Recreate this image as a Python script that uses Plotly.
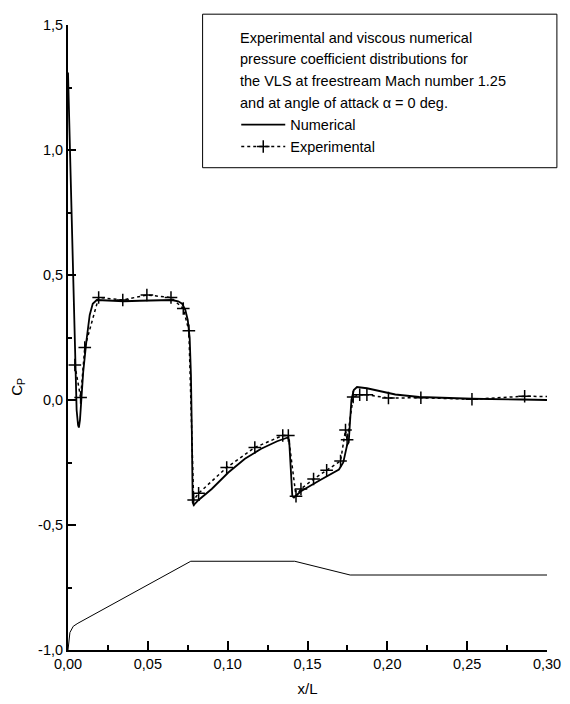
import plotly.graph_objects as go

# ---- data ----
num_x = [0.0, 0.0054, 0.0063, 0.0068, 0.0075, 0.0085, 0.0095, 0.0116, 0.0136, 0.0155, 0.018,
         0.025, 0.035, 0.045, 0.055, 0.065, 0.069, 0.0715, 0.0735, 0.0750, 0.0762, 0.0770,
         0.0775, 0.0778, 0.0781, 0.0788, 0.0818, 0.090, 0.1004, 0.1108, 0.121, 0.131, 0.1376,
         0.1385, 0.1395, 0.1405, 0.1415, 0.1459, 0.158, 0.1697, 0.1724, 0.1748, 0.1758,
         0.1765, 0.1775, 0.179, 0.181, 0.1872, 0.195, 0.205, 0.220, 0.253, 0.284, 0.300]
num_cp = [1.31, -0.04, -0.10, -0.11, -0.08, 0.02, 0.11, 0.24, 0.34, 0.385, 0.40,
          0.398, 0.395, 0.397, 0.40, 0.40, 0.395, 0.385, 0.36, 0.32, 0.25, 0.10,
          -0.10, -0.30, -0.41, -0.42, -0.40, -0.356, -0.29, -0.235, -0.195, -0.165, -0.15,
          -0.16, -0.26, -0.385, -0.39, -0.365, -0.32, -0.278, -0.25, -0.18, -0.17,
          -0.074, 0.0, 0.04, 0.052, 0.047, 0.035, 0.022, 0.012, 0.005, 0.002, 0.0]

exp_x = [0.0043, 0.0079, 0.0105, 0.0192, 0.0343, 0.0494, 0.0645, 0.0722, 0.0757, 0.0787,
         0.0818, 0.0994, 0.117, 0.1345, 0.1380, 0.1428, 0.1459, 0.1538, 0.162, 0.1707,
         0.1738, 0.1748, 0.1786, 0.1827, 0.1872, 0.2007, 0.221, 0.253, 0.286, 0.31]
exp_cp = [0.14, 0.01, 0.21, 0.41, 0.40, 0.42, 0.41, 0.366, 0.277, -0.40,
          -0.373, -0.27, -0.19, -0.142, -0.142, -0.385, -0.356, -0.316, -0.281, -0.244,
          -0.12, -0.159, 0.012, 0.021, 0.021, 0.008, 0.009, 0.003, 0.015, 0.013]

# body contour drawn under the curves
body_x = [0.0, 0.0005, 0.0012, 0.0033, 0.0062, 0.0769, 0.142, 0.1767, 0.300]
body_y = [-1.0, -0.96, -0.93, -0.905, -0.893, -0.645, -0.645, -0.70, -0.70]

x_ticks = [0.0, 0.05, 0.10, 0.15, 0.20, 0.25, 0.30]
x_ticktext = ["0,00", "0,05", "0,10", "0,15", "0,20", "0,25", "0,30"]
y_ticks = [-1.0, -0.5, 0.0, 0.5, 1.0, 1.5]
y_ticktext = ["-1,0", "-0,5", "0,0", "0,5", "1,0", "1,5"]
x_minor = [0.025, 0.075, 0.125, 0.175, 0.225, 0.275]
y_minor = [-0.75, -0.25, 0.25, 0.75, 1.25]

box_lines = ["Experimental and viscous numerical",
             "pressure coefficient distributions for",
             "the VLS at freestream Mach number 1.25",
             "and at angle of attack \u03b1 = 0 deg."]

FONT = "Liberation Sans, Arial, Helvetica, sans-serif"

fig = go.Figure()
fig.add_trace(go.Scatter(x=body_x, y=body_y, mode="lines", line=dict(color="black", width=1),
                         showlegend=False, hoverinfo="skip"))
fig.add_trace(go.Scatter(x=num_x, y=num_cp, mode="lines", name="Numerical",
                         line=dict(color="black", width=1.8)))
fig.add_trace(go.Scatter(x=exp_x, y=exp_cp, mode="lines+markers", name="Experimental",
                         line=dict(color="black", width=1.5, dash="dot"),
                         marker=dict(symbol="cross-thin", size=9,
                                     line=dict(color="black", width=1.5))))

# page body has an 8px margin: the figure starts at (8, 8) in the window
OFF = 8
FIG_W, FIG_H = 570 - OFF, 704 - OFF
# plot area in window pixels
L, R, T, B = 68, 552, 17, 652
W, H = R - L, B - T
def px(xp):
    return (xp - L) / W
def py(yp):
    return (B - yp) / H

fig.add_shape(type="rect", xref="paper", yref="paper",
              x0=px(204), x1=px(562), y0=py(162), y1=py(6),
              line=dict(color="black", width=1), fillcolor="white", layer="above")

line_y = [30, 52, 74, 96]
for txt, yy in zip(box_lines, line_y):
    fig.add_annotation(xref="paper", yref="paper", x=px(240), y=py(yy), text=txt,
                       showarrow=False, xanchor="left", yanchor="middle",
                       font=dict(family=FONT, size=14.5, color="black"))

# y axis title placed as in the reference
fig.add_annotation(xref="paper", yref="paper", x=px(17), y=py(385), text="C<sub>P</sub>",
                   showarrow=False, textangle=-90, xanchor="center", yanchor="middle",
                   font=dict(family=FONT, size=15, color="black"))

fig.update_layout(
    width=FIG_W, height=FIG_H,
    margin=dict(l=L - OFF, r=FIG_W - (R - OFF), t=T - OFF, b=FIG_H - (B - OFF)),
    paper_bgcolor="white", plot_bgcolor="white",
    font=dict(family=FONT, size=14, color="black"),
    showlegend=True,
    legend=dict(x=px(238), y=py(102), xanchor="left", yanchor="top",
                bgcolor="rgba(0,0,0,0)", borderwidth=0, itemwidth=44,
                font=dict(family=FONT, size=14.5, color="black"),
                tracegroupgap=0),
    xaxis=dict(range=[0, 0.30], tickmode="array", tickvals=x_ticks, ticktext=x_ticktext,
               ticks="inside", ticklen=9, tickwidth=1.5, tickcolor="black",
               showline=True, linewidth=2, linecolor="black", mirror=False,
               showgrid=False, zeroline=False,
               tickfont=dict(size=14.5),
               minor=dict(tickmode="array", tickvals=x_minor, ticks="inside",
                          ticklen=5, tickwidth=1.5, tickcolor="black", showgrid=False),
               title=dict(text="x/L", font=dict(size=15), standoff=12)),
    yaxis=dict(range=[-1.0, 1.5], tickmode="array", tickvals=y_ticks, ticktext=y_ticktext,
               ticks="inside", ticklen=8, tickwidth=1.5, tickcolor="black",
               showline=True, linewidth=2, linecolor="black", mirror=False,
               showgrid=False, zeroline=False,
               tickfont=dict(size=14.5),
               minor=dict(tickmode="array", tickvals=y_minor, ticks="inside",
                          ticklen=4, tickwidth=1.5, tickcolor="black", showgrid=False)),
)

fig.write_html("out.html")
